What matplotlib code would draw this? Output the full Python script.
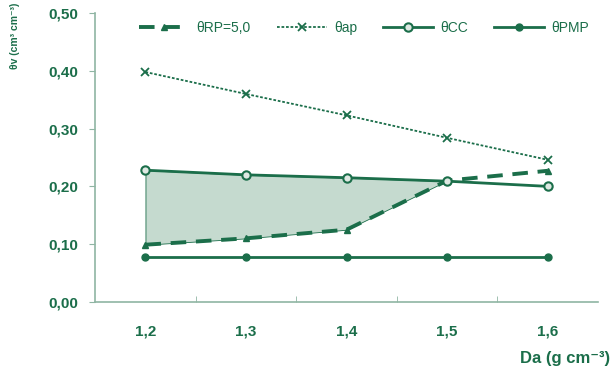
import numpy as np
import matplotlib.pyplot as plt

plt.rcParams['font.family'] = ['Liberation Sans', 'DejaVu Sans']

verde = "#1b6e4a"
relleno = "#c5dacf"

# densidad aparente (categorías) y contenidos de agua
da = ["1,2", "1,3", "1,4", "1,5", "1,6"]
theta_rp = [0.099, 0.110, 0.125, 0.210, 0.227]
theta_ap = [0.398, 0.360, 0.323, 0.284, 0.246]
theta_cc = [0.228, 0.220, 0.215, 0.209, 0.200]
theta_pmp = [0.078, 0.078, 0.078, 0.078, 0.078]

x = np.arange(len(da))

fig = plt.figure(figsize=(6.14, 3.75), dpi=100)
ax = fig.add_axes([0.155, 0.195, 0.819, 0.77])

# zona entre CC y RP
ax.fill_between(x, theta_rp, theta_cc, where=np.array(theta_cc) >= np.array(theta_rp),
                interpolate=True, color=relleno, edgecolor=verde, linewidth=0.6, zorder=1)

ax.plot(x, theta_rp, color=verde, linestyle=(0, (4, 2.5)), linewidth=2.8,
        marker="^", markersize=4, label="θRP=5,0", zorder=3)
ax.plot(x, theta_ap, color=verde, linestyle=(0, (1.5, 1)), linewidth=1.3,
        marker="x", markersize=6, markeredgewidth=1.3, label="θap", zorder=3)
ax.plot(x, theta_cc, color=verde, linewidth=2, marker="o", markersize=6,
        markerfacecolor="#dfe9e3", markeredgewidth=1.5, label="θCC", zorder=4)
ax.plot(x, theta_pmp, color=verde, linewidth=2, marker="o", markersize=5,
        label="θPMP", zorder=3)

ax.set_xlim(-0.5, len(da) - 0.5)
ax.set_ylim(0, 0.5)
ax.set_xticks(x)
ax.set_xticklabels(da)
ax.set_xticks(np.arange(0.5, len(da) - 1, 1), minor=True)
ax.tick_params(axis="x", which="major", length=0, pad=16, labelsize=11, labelcolor=verde)
ax.tick_params(axis="x", which="minor", length=4, direction="in", color="#8fb5a3")
ax.set_yticks(np.arange(0, 0.51, 0.1))
ax.set_yticklabels([f"{v:.2f}".replace(".", ",") for v in np.arange(0, 0.51, 0.1)])
ax.tick_params(axis="y", length=4, color="#8fb5a3", labelsize=11, labelcolor=verde, pad=8)
for lab in ax.get_xticklabels() + ax.get_yticklabels():
    lab.set_fontweight("bold")

for s in ["top", "right"]:
    ax.spines[s].set_visible(False)
for s in ["left", "bottom"]:
    ax.spines[s].set_color("#8fb5a3")
    ax.spines[s].set_linewidth(1.2)

# título del eje y, pegado arriba a la izquierda
fig.text(15 / 614, 1 - 3 / 375, "θv (cm³ cm⁻³)", rotation=90, ha="center", va="top",
         color=verde, fontsize=7.5, fontweight="bold")
fig.text(610 / 614, 1 - 358 / 375, "Da (g cm⁻³)", ha="right", va="center",
         color=verde, fontsize=12, fontweight="bold")

ax.legend(loc="upper center", bbox_to_anchor=(0.535, 1.015), ncol=4, frameon=False,
          fontsize=10, labelcolor=verde, handlelength=3.6, handletextpad=0.5,
          columnspacing=1.9)

fig.savefig("out.png", dpi=100)
